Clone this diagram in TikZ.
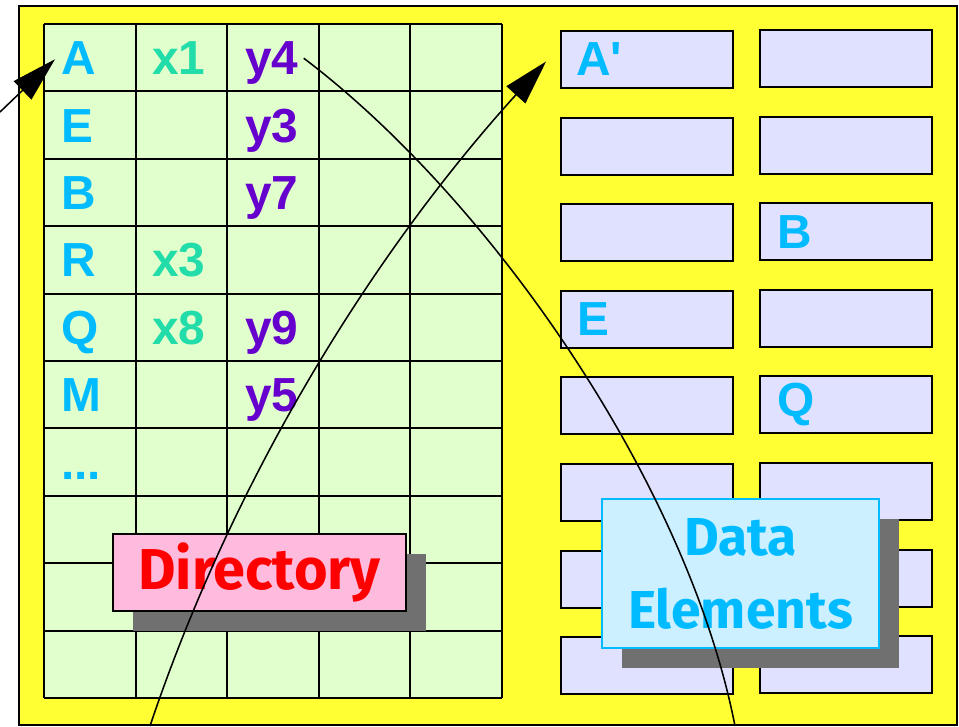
\documentclass[tikz,border=0pt]{standalone}
\usepackage{fontspec}
\setmainfont{Liberation Sans}
\newfontfamily\titlefont{Fira Sans}
\usetikzlibrary{arrows.meta,calc,shadows}

\definecolor{bgyellow}{HTML}{FFFF33}
\definecolor{cellgreen}{HTML}{E0FFCC}
\definecolor{boxlilac}{HTML}{E0E0FF}
\definecolor{keyblue}{HTML}{00BBFF}
\definecolor{xteal}{HTML}{22DDAA}
\definecolor{ypurple}{HTML}{6600CC}
\definecolor{dirpink}{HTML}{FFBBDD}
\definecolor{datacyan}{HTML}{CCF0FF}
\definecolor{shadowgray}{HTML}{707070}
\def\pxu{0.025cm}

\tikzset{
  cell/.style={anchor=base west,inner sep=0pt,font=\fontsize{34}{40}\selectfont\bfseries},
  key/.style={cell,text=keyblue},
  xval/.style={cell,text=xteal},
  yval/.style={cell,text=ypurple},
  databox/.style={draw,line width=1.3pt,fill=boxlilac,minimum width=172*\pxu,minimum height=57*\pxu,inner sep=0pt},
  titlebox/.style={line width=1.3pt,inner sep=0pt,
    drop shadow={shadow xshift=0.5cm,shadow yshift=-0.5cm,opacity=1,fill=shadowgray}},
  link/.style={line width=1.1pt},
  bigtip/.style={-{Triangle[length=32pt,width=18pt]}}
}

\begin{document}
\begin{tikzpicture}[x=0.025cm,y=-0.025cm]
\useasboundingbox (0,0) rectangle (959,726);
\draw[line width=1.2pt,fill=bgyellow] (19,6) rectangle (957,725);

% directory grid
\fill[cellgreen] (44,24) rectangle (502,698);
\foreach \i in {0,...,5}
  \draw[line width=1.3pt] ({44+91.6*\i},24) -- ({44+91.6*\i},698);
\foreach \j in {0,...,10}
  \draw[line width=1.3pt] (44,{24+67.4*\j}) -- (502,{24+67.4*\j});

\node[key] (kA) at (61,74.7) {A};
\node[key] (kE) at (61,142.1) {E};
\node[key] (kB) at (61,209.5) {B};
\node[key] (kR) at (61,276.9) {R};
\node[key] (kQ) at (61,344.3) {Q};
\node[key] (kM) at (61,411.7) {M};
\node[key] (kdots) at (61,479.1) {...};
\node[xval] (x1) at (152,74.7) {x1};
\node[xval] (x3) at (152,276.9) {x3};
\node[xval] (x8) at (152,344.3) {x8};
\node[yval] (y4) at (245,74.7) {y4};
\node[yval] (y3) at (245,142.1) {y3};
\node[yval] (y7) at (245,209.5) {y7};
\node[yval] (y9) at (245,344.3) {y9};
\node[yval] (y5) at (245,411.7) {y5};

% data elements
\foreach \r in {0,...,7} {
  \node[databox] (l\r) at (647,{59.5+86.6*\r}) {};
  \node[databox] (r\r) at (846,{58.5+86.6*\r}) {};
}
\node[key,anchor=west] (dA) at ($(l0.west)+(16,0)$) {A\textquotesingle};
\node[key,anchor=west] (dE) at ($(l3.west)+(17,0)$) {E};
\node[key,anchor=west] (dB) at ($(r2.west)+(18,0)$) {B};
\node[key,anchor=west] (dQ) at ($(r4.west)+(18,0)$) {Q};

% titles
\node[titlebox,draw,fill=dirpink,text=red,minimum width=293*\pxu,minimum height=77*\pxu,
  font=\titlefont\bfseries\fontsize{41}{48}\selectfont] (dir) at (259.5,572.5) {Directory};
\node[titlebox,draw=keyblue,fill=datacyan,text=keyblue,align=center,minimum width=277*\pxu,
  minimum height=149*\pxu,font=\titlefont\bfseries\fontsize{38}{52}\selectfont] (data) at (740.5,573.5) {Data\\Elements};

% pointers
\coordinate (src) at (0,112);
\coordinate (b1) at (150,726);
\coordinate (b2) at (735,726);
\draw[link,bigtip] (src) -- ($(kA.west)+(-6,1)$);
\draw[link,bigtip] (b1) .. controls +(83,-247) and +(-174,192) .. ($(l0.west)+(-14,2)$);
\draw[link] ($(y4.east)+(5,-5)$) .. controls +(185,140) and +(-48,-245) .. (b2);
\end{tikzpicture}
\end{document}
